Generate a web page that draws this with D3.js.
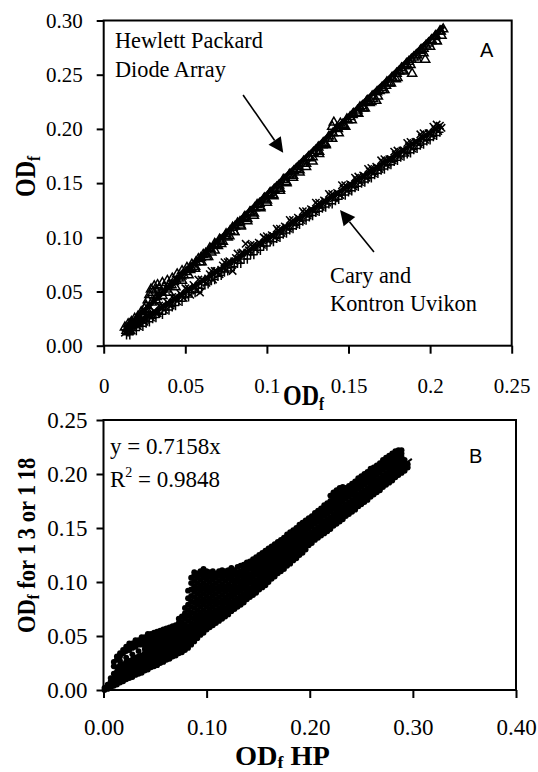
<!DOCTYPE html>
<html><head><meta charset="utf-8">
<script src="https://cdn.jsdelivr.net/npm/d3@7"></script>
<style>body{margin:0;background:#fff} .sf{font-family:"Liberation Serif","Tinos","Times New Roman","DejaVu Serif","Noto Serif",serif} .ss{font-family:"Liberation Sans",Arimo,Arial,sans-serif}</style>
</head><body>
<svg id="c" width="538" height="772"></svg>
<script>
// ---------- DATA ----------
const aXTicks = [0, 0.05, 0.1, 0.15, 0.2, 0.25];
const aXTickLabels = ["0", "0.05", "0.1", "0.15", "0.2", "0.25"];
const aYTicks = [0, 0.05, 0.1, 0.15, 0.2, 0.25, 0.3];
const aYTickLabels = ["0.00", "0.05", "0.10", "0.15", "0.20", "0.25", "0.30"];
const bXTicks = [0, 0.1, 0.2, 0.3, 0.4];
const bXTickLabels = ["0.00", "0.10", "0.20", "0.30", "0.40"];
const bYTicks = [0, 0.05, 0.1, 0.15, 0.2, 0.25];
const bYTickLabels = ["0.00", "0.05", "0.10", "0.15", "0.20", "0.25"];

// Panel A: Hewlett Packard diode array (triangles)
const hpPoints = [[0.013,0.017],[0.014,0.014],[0.015,0.020],[0.016,0.018],[0.017,0.022],[0.018,0.019],[0.019,0.025],[0.020,0.023],[0.021,0.027],[0.022,0.025],[0.023,0.031],[0.024,0.029],[0.025,0.034],[0.026,0.037],[0.027,0.042],[0.028,0.047],[0.029,0.052],[0.030,0.049],[0.031,0.055],[0.032,0.051],[0.033,0.056],[0.034,0.053],[0.036,0.058],[0.037,0.054],[0.039,0.060],[0.040,0.056],[0.042,0.062],[0.043,0.059],[0.045,0.066],[0.046,0.062],[0.048,0.069],[0.049,0.065],[0.051,0.072],[0.053,0.070],[0.054,0.075],[0.056,0.073],[0.058,0.080],[0.059,0.077],[0.061,0.084],[0.063,0.082],[0.065,0.090],[0.066,0.086],[0.068,0.094],[0.070,0.092],[0.071,0.098],[0.073,0.096],[0.075,0.103],[0.077,0.101],[0.079,0.109],[0.080,0.105],[0.082,0.113],[0.084,0.110],[0.086,0.118],[0.088,0.115],[0.090,0.123],[0.092,0.120],[0.094,0.130],[0.096,0.127],[0.098,0.135],[0.100,0.132],[0.102,0.141],[0.104,0.138],[0.106,0.146],[0.108,0.143],[0.110,0.153],[0.112,0.150],[0.114,0.158],[0.116,0.155],[0.118,0.163],[0.120,0.160],[0.122,0.168],[0.124,0.165],[0.126,0.173],[0.128,0.170],[0.130,0.180],[0.132,0.177],[0.134,0.185],[0.136,0.186],[0.138,0.193],[0.140,0.202],[0.141,0.206],[0.143,0.201],[0.145,0.205],[0.147,0.203],[0.149,0.209],[0.151,0.211],[0.153,0.214],[0.155,0.215],[0.157,0.220],[0.159,0.219],[0.161,0.225],[0.163,0.224],[0.165,0.228],[0.167,0.226],[0.169,0.235],[0.171,0.236],[0.173,0.240],[0.175,0.242],[0.177,0.247],[0.179,0.246],[0.181,0.253],[0.183,0.254],[0.185,0.258],[0.187,0.262],[0.189,0.251],[0.190,0.266],[0.192,0.268],[0.194,0.272],[0.196,0.274],[0.197,0.264],[0.199,0.279],[0.201,0.282],[0.203,0.285],[0.204,0.281],[0.206,0.290],[0.207,0.286],[0.208,0.292],
 [0.0145,0.016],[0.0175,0.020],[0.0205,0.024],[0.0235,0.028],[0.0265,0.033],[0.0295,0.040],[0.0325,0.045],[0.0355,0.049],[0.0385,0.052],[0.0415,0.056],[0.0445,0.060],[0.0475,0.064],[0.0505,0.068],[0.0535,0.072],[0.0565,0.077],[0.0595,0.081],[0.0625,0.085],[0.0655,0.089],[0.0685,0.093],[0.0715,0.097],[0.0745,0.101],[0.0775,0.106],[0.0805,0.110],[0.0835,0.114],[0.0865,0.119],[0.0895,0.123],[0.0925,0.127],[0.0955,0.131],[0.0985,0.136],[0.1015,0.140],[0.1045,0.144],[0.1075,0.148],[0.1105,0.153],[0.1135,0.157],[0.1165,0.161],[0.1195,0.165],[0.1225,0.170],[0.1255,0.174],[0.1285,0.178],[0.1315,0.183],[0.1345,0.187],[0.1375,0.191],[0.1405,0.196],[0.1435,0.200],[0.1465,0.204],[0.1495,0.208],[0.1525,0.213],[0.1555,0.217],[0.1585,0.221],[0.1615,0.226],[0.1645,0.230],[0.1675,0.234],[0.1705,0.238],[0.1735,0.243],[0.1765,0.247],[0.1795,0.251],[0.1825,0.256],[0.1855,0.260],[0.1885,0.264],[0.1915,0.268],[0.1945,0.273],[0.1975,0.277],[0.2005,0.281],[0.2035,0.286],[0.2065,0.290],
 [0.016,0.014],[0.020,0.020],[0.024,0.026],[0.028,0.033],[0.032,0.042],[0.036,0.046],[0.040,0.049],[0.044,0.054],[0.048,0.060],[0.052,0.065],[0.056,0.071],[0.060,0.077],[0.064,0.082],[0.068,0.088],[0.072,0.094],[0.076,0.100],[0.080,0.105],[0.084,0.111],[0.088,0.117],[0.092,0.122],[0.096,0.128],[0.100,0.134],[0.104,0.139],[0.108,0.145],[0.112,0.151],[0.116,0.157],[0.120,0.162],[0.124,0.168],[0.128,0.174],[0.132,0.179],[0.136,0.185],[0.140,0.191],[0.144,0.196],[0.148,0.202],[0.152,0.208],[0.156,0.214],[0.160,0.219],[0.164,0.225],[0.168,0.230],[0.172,0.236],[0.176,0.242],[0.180,0.247],[0.184,0.253],[0.188,0.259],[0.192,0.264],[0.196,0.270],[0.200,0.276],[0.204,0.281]];
// Panel A: Cary (x) and Kontron Uvikon (+)
const caryPoints = [[0.013,0.012],[0.015,0.016],[0.017,0.014],[0.019,0.020],[0.021,0.018],[0.023,0.024],[0.025,0.022],[0.027,0.028],[0.029,0.026],[0.031,0.032],[0.033,0.030],[0.035,0.036],[0.037,0.033],[0.039,0.040],[0.041,0.037],[0.043,0.044],[0.045,0.041],[0.047,0.048],[0.049,0.044],[0.051,0.052],[0.053,0.047],[0.055,0.056],[0.057,0.051],[0.059,0.049],[0.061,0.060],[0.063,0.058],[0.065,0.066],[0.067,0.061],[0.069,0.069],[0.071,0.066],[0.073,0.074],[0.075,0.070],[0.077,0.078],[0.079,0.069],[0.081,0.081],[0.083,0.079],[0.085,0.086],[0.087,0.094],[0.089,0.088],[0.091,0.092],[0.093,0.089],[0.095,0.095],[0.097,0.093],[0.099,0.099],[0.101,0.097],[0.103,0.102],[0.105,0.100],[0.107,0.106],[0.109,0.104],[0.111,0.110],[0.113,0.108],[0.115,0.114],[0.117,0.112],[0.119,0.118],[0.121,0.116],[0.123,0.122],[0.125,0.120],[0.127,0.126],[0.129,0.124],[0.131,0.130],[0.133,0.128],[0.135,0.134],[0.137,0.132],[0.139,0.138],[0.141,0.136],[0.143,0.141],[0.145,0.139],[0.147,0.145],[0.149,0.143],[0.151,0.149],[0.153,0.147],[0.155,0.153],[0.157,0.151],[0.159,0.157],[0.161,0.155],[0.163,0.161],[0.165,0.159],[0.167,0.165],[0.169,0.163],[0.171,0.169],[0.173,0.167],[0.175,0.172],[0.177,0.171],[0.179,0.176],[0.181,0.175],[0.183,0.180],[0.185,0.178],[0.187,0.184],[0.189,0.182],[0.191,0.188],[0.193,0.186],[0.195,0.192],[0.197,0.190],[0.199,0.196],[0.201,0.194],[0.203,0.200],[0.205,0.198],[0.206,0.203],[0.207,0.201],
 [0.016,0.014],[0.020,0.021],[0.024,0.023],[0.028,0.029],[0.032,0.030],[0.036,0.037],[0.040,0.038],[0.044,0.045],[0.048,0.046],[0.052,0.053],[0.056,0.054],[0.060,0.061],[0.064,0.062],[0.068,0.069],[0.072,0.070],[0.076,0.077],[0.080,0.078],[0.084,0.085],[0.088,0.086],[0.092,0.093],[0.096,0.094],[0.100,0.101],[0.104,0.101],[0.108,0.108],[0.112,0.109],[0.116,0.116],[0.120,0.117],[0.124,0.124],[0.128,0.125],[0.132,0.132],[0.136,0.133],[0.140,0.140],[0.144,0.140],[0.148,0.148],[0.152,0.148],[0.156,0.156],[0.160,0.156],[0.164,0.164],[0.168,0.164],[0.172,0.172],[0.176,0.172],[0.180,0.180],[0.184,0.180],[0.188,0.188],[0.192,0.188],[0.196,0.196],[0.200,0.196],[0.204,0.204],
 [0.018,0.022],[0.026,0.029],[0.034,0.037],[0.042,0.045],[0.050,0.053],[0.058,0.061],[0.066,0.069],[0.074,0.077],[0.082,0.085],[0.090,0.093],[0.098,0.100],[0.106,0.108],[0.114,0.116],[0.122,0.124],[0.130,0.132],[0.138,0.140],[0.146,0.148],[0.154,0.155],[0.162,0.163],[0.170,0.171],[0.178,0.179],[0.186,0.187],[0.194,0.195],[0.202,0.202]];
const kontronPoints = [[0.014,0.010],[0.018,0.014],[0.022,0.019],[0.026,0.021],[0.030,0.025],[0.034,0.030],[0.038,0.033],[0.042,0.036],[0.046,0.041],[0.050,0.045],[0.054,0.049],[0.058,0.053],[0.062,0.056],[0.066,0.060],[0.070,0.064],[0.074,0.068],[0.078,0.072],[0.082,0.076],[0.086,0.080],[0.090,0.084],[0.094,0.088],[0.098,0.092],[0.102,0.096],[0.106,0.099],[0.110,0.103],[0.114,0.107],[0.118,0.111],[0.122,0.115],[0.126,0.119],[0.130,0.123],[0.134,0.127],[0.138,0.131],[0.142,0.134],[0.146,0.139],[0.150,0.142],[0.154,0.146],[0.158,0.150],[0.162,0.154],[0.166,0.158],[0.170,0.162],[0.174,0.166],[0.178,0.170],[0.182,0.174],[0.186,0.177],[0.190,0.181],[0.194,0.185],[0.198,0.189],[0.202,0.193],[0.206,0.197],
 [0.016,0.010],[0.020,0.014],[0.024,0.018],[0.028,0.022],[0.032,0.026],[0.036,0.029],[0.040,0.033],[0.044,0.037],[0.048,0.041],[0.052,0.045],[0.056,0.049],[0.060,0.053],[0.064,0.057],[0.068,0.061],[0.072,0.065],[0.076,0.069],[0.080,0.073],[0.084,0.076],[0.088,0.080],[0.092,0.084],[0.096,0.088],[0.100,0.092],[0.104,0.096],[0.108,0.100],[0.112,0.104],[0.116,0.108],[0.120,0.112],[0.124,0.116],[0.128,0.120],[0.132,0.124],[0.136,0.128],[0.140,0.131],[0.144,0.135],[0.148,0.139],[0.152,0.143],[0.156,0.147],[0.160,0.151],[0.164,0.155],[0.168,0.159],[0.172,0.163],[0.176,0.167],[0.180,0.171],[0.184,0.175],[0.188,0.178],[0.192,0.182],[0.196,0.186],[0.200,0.190],[0.204,0.194]];
const hpFit = [[0.013, 0.0156], [0.2085, 0.2951]];
const caryFit = [[0.013, 0.0130], [0.207, 0.2035]];

// Panel B: OD_f at 13 or 118 vs OD_f HP (columns: x, list of y)
const bColumns = [
 [0.001,[0.000,0.002]],
 [0.004,[0.001,0.003,0.005]],
 [0.007,[0.002,0.005,0.008,0.011]],
 [0.010,[0.004,0.007,0.011,0.015,0.022,0.026]],
 [0.013,[0.005,0.009,0.013,0.017,0.021,0.028,0.031]],
 [0.016,[0.007,0.011,0.015,0.019,0.023,0.027,0.031,0.034]],
 [0.019,[0.008,0.012,0.016,0.020,0.024,0.034,0.037]],
 [0.022,[0.010,0.014,0.018,0.022,0.026,0.030,0.036,0.040]],
 [0.025,[0.011,0.015,0.019,0.023,0.027,0.037,0.041,0.043]],
 [0.028,[0.012,0.016,0.020,0.024,0.028,0.033,0.039,0.043]],
 [0.031,[0.014,0.018,0.022,0.026,0.030,0.040,0.044,0.046]],
 [0.034,[0.015,0.019,0.023,0.027,0.031,0.036,0.042,0.046]],
 [0.037,[0.016,0.020,0.024,0.028,0.032,0.042,0.046,0.049]],
 [0.040,[0.018,0.022,0.026,0.030,0.034,0.038,0.042,0.045,0.049]],
 [0.043,[0.019,0.023,0.027,0.031,0.035,0.039,0.043,0.047,0.050,0.052]],
 [0.046,[0.021,0.025,0.029,0.033,0.037,0.041,0.044,0.048,0.052]],
 [0.049,[0.022,0.026,0.030,0.034,0.038,0.042,0.046,0.050,0.053]],
 [0.052,[0.023,0.027,0.031,0.035,0.039,0.043,0.047,0.051,0.054]],
 [0.055,[0.025,0.029,0.033,0.037,0.041,0.045,0.048,0.052,0.055]],
 [0.058,[0.026,0.030,0.034,0.038,0.042,0.046,0.050,0.053,0.056]],
 [0.061,[0.028,0.032,0.036,0.040,0.044,0.048,0.051,0.054,0.057]],
 [0.064,[0.029,0.033,0.037,0.041,0.045,0.049,0.052,0.055,0.058]],
 [0.067,[0.031,0.035,0.039,0.043,0.047,0.050,0.053,0.056,0.059]],
 [0.070,[0.032,0.036,0.040,0.044,0.048,0.051,0.054,0.057,0.060]],
 [0.073,[0.034,0.038,0.042,0.046,0.050,0.053,0.056,0.059,0.062,0.066]],
 [0.076,[0.035,0.039,0.043,0.047,0.051,0.055,0.059,0.063,0.068]],
 [0.079,[0.037,0.041,0.045,0.049,0.053,0.057,0.061,0.066,0.071,0.076]],
 [0.082,[0.039,0.043,0.047,0.051,0.055,0.059,0.064,0.069,0.074,0.079,0.085,0.092]],
 [0.085,[0.042,0.046,0.050,0.054,0.058,0.062,0.067,0.072,0.077,0.082,0.087,0.093,0.099,0.104]],
 [0.088,[0.045,0.049,0.053,0.057,0.061,0.066,0.071,0.076,0.081,0.086,0.091,0.096,0.101,0.106,0.109]],
 [0.091,[0.048,0.052,0.056,0.060,0.064,0.069,0.074,0.079,0.084,0.089,0.094,0.099,0.104,0.108]],
 [0.094,[0.051,0.055,0.059,0.063,0.067,0.072,0.077,0.082,0.087,0.092,0.097,0.102,0.107,0.110]],
 [0.097,[0.053,0.057,0.061,0.065,0.069,0.074,0.079,0.084,0.089,0.094,0.099,0.104,0.108,0.112]],
 [0.100,[0.056,0.060,0.064,0.068,0.072,0.077,0.082,0.087,0.092,0.097,0.102,0.106,0.110]],
 [0.103,[0.058,0.062,0.066,0.070,0.075,0.080,0.085,0.090,0.095,0.100,0.105,0.109]],
 [0.106,[0.060,0.064,0.068,0.072,0.077,0.082,0.087,0.092,0.097,0.102,0.106,0.110]],
 [0.109,[0.062,0.066,0.070,0.074,0.079,0.084,0.089,0.094,0.099,0.104,0.108]],
 [0.112,[0.064,0.068,0.072,0.076,0.081,0.086,0.091,0.096,0.101,0.106,0.110]],
 [0.115,[0.066,0.070,0.074,0.078,0.083,0.088,0.093,0.098,0.103,0.107,0.111]],
 [0.118,[0.068,0.072,0.076,0.081,0.086,0.091,0.096,0.101,0.106,0.110]],
 [0.121,[0.070,0.074,0.078,0.083,0.088,0.093,0.098,0.103,0.107,0.111]],
 [0.124,[0.073,0.077,0.081,0.086,0.091,0.096,0.101,0.105,0.109,0.113]],
 [0.127,[0.075,0.079,0.083,0.088,0.093,0.098,0.102,0.107,0.111]],
 [0.130,[0.077,0.081,0.085,0.090,0.095,0.100,0.104,0.109,0.114]],
 [0.133,[0.079,0.083,0.087,0.092,0.097,0.101,0.106,0.110,0.115]],
 [0.136,[0.081,0.085,0.089,0.094,0.099,0.103,0.108,0.112,0.116]],
 [0.139,[0.084,0.088,0.092,0.097,0.101,0.105,0.110,0.114,0.118]],
 [0.142,[0.086,0.090,0.094,0.099,0.103,0.107,0.112,0.116,0.119]],
 [0.145,[0.088,0.092,0.096,0.100,0.105,0.109,0.113,0.117,0.121]],
 [0.148,[0.090,0.094,0.098,0.102,0.107,0.111,0.115,0.119,0.123]],
 [0.151,[0.093,0.097,0.101,0.105,0.109,0.113,0.117,0.121,0.125]],
 [0.154,[0.095,0.099,0.103,0.107,0.111,0.115,0.119,0.123,0.127]],
 [0.157,[0.097,0.101,0.105,0.109,0.113,0.117,0.121,0.125,0.129]],
 [0.160,[0.100,0.104,0.108,0.112,0.116,0.120,0.124,0.128,0.131]],
 [0.163,[0.103,0.107,0.110,0.114,0.118,0.122,0.126,0.130,0.133]],
 [0.166,[0.105,0.109,0.112,0.116,0.120,0.124,0.128,0.132,0.135]],
 [0.169,[0.108,0.111,0.114,0.118,0.122,0.126,0.130,0.134,0.137]],
 [0.172,[0.110,0.113,0.116,0.120,0.124,0.128,0.132,0.136,0.139]],
 [0.175,[0.112,0.115,0.118,0.122,0.126,0.130,0.134,0.138,0.141]],
 [0.178,[0.115,0.118,0.121,0.125,0.129,0.133,0.137,0.140,0.144]],
 [0.181,[0.117,0.120,0.123,0.127,0.131,0.135,0.139,0.142,0.146]],
 [0.184,[0.120,0.123,0.126,0.130,0.134,0.138,0.141,0.144,0.148]],
 [0.187,[0.122,0.125,0.128,0.132,0.136,0.140,0.143,0.147,0.150]],
 [0.190,[0.125,0.128,0.131,0.134,0.138,0.142,0.146,0.149,0.153]],
 [0.193,[0.127,0.130,0.133,0.136,0.140,0.144,0.148,0.151,0.155]],
 [0.196,[0.130,0.133,0.136,0.139,0.143,0.147,0.150,0.153,0.157]],
 [0.199,[0.134,0.137,0.140,0.144,0.149,0.153,0.156,0.159]],
 [0.202,[0.136,0.139,0.142,0.146,0.151,0.155,0.158,0.161]],
 [0.205,[0.139,0.142,0.145,0.149,0.154,0.158,0.161,0.164]],
 [0.208,[0.141,0.144,0.147,0.151,0.156,0.160,0.163,0.166]],
 [0.211,[0.143,0.146,0.149,0.153,0.158,0.162,0.165,0.168]],
 [0.214,[0.145,0.149,0.152,0.156,0.161,0.165,0.168,0.171]],
 [0.217,[0.147,0.151,0.154,0.158,0.163,0.167,0.170,0.173]],
 [0.220,[0.149,0.153,0.156,0.160,0.165,0.169,0.172,0.175,0.180]],
 [0.223,[0.152,0.156,0.159,0.163,0.168,0.172,0.175,0.178,0.183]],
 [0.226,[0.154,0.158,0.161,0.165,0.170,0.174,0.177,0.180,0.185]],
 [0.229,[0.156,0.160,0.163,0.167,0.172,0.176,0.179,0.182,0.187]],
 [0.232,[0.158,0.162,0.165,0.169,0.174,0.178,0.181,0.184,0.188]],
 [0.235,[0.161,0.165,0.168,0.172,0.177,0.181,0.184,0.187]],
 [0.238,[0.163,0.167,0.170,0.174,0.179,0.183,0.186,0.189]],
 [0.241,[0.165,0.169,0.172,0.176,0.181,0.185,0.188,0.191]],
 [0.244,[0.167,0.171,0.174,0.178,0.183,0.187,0.190,0.193]],
 [0.247,[0.170,0.174,0.177,0.181,0.186,0.190,0.193,0.196]],
 [0.250,[0.172,0.176,0.179,0.183,0.188,0.192,0.195,0.198]],
 [0.253,[0.174,0.178,0.181,0.185,0.190,0.194,0.197,0.200]],
 [0.256,[0.176,0.180,0.183,0.187,0.192,0.196,0.199,0.202]],
 [0.259,[0.179,0.183,0.186,0.190,0.195,0.199,0.202,0.205]],
 [0.262,[0.181,0.185,0.188,0.192,0.197,0.201,0.204,0.206]],
 [0.265,[0.183,0.187,0.190,0.194,0.199,0.203,0.206,0.208]],
 [0.268,[0.185,0.189,0.192,0.196,0.201,0.205,0.208,0.210]],
 [0.271,[0.188,0.192,0.195,0.199,0.204,0.208,0.211,0.213]],
 [0.274,[0.190,0.194,0.197,0.201,0.206,0.210,0.213,0.215]],
 [0.277,[0.192,0.196,0.199,0.203,0.208,0.212,0.215,0.217]],
 [0.280,[0.194,0.198,0.201,0.205,0.209,0.213,0.216,0.219]],
 [0.283,[0.197,0.201,0.204,0.208,0.212,0.216,0.219,0.221]],
 [0.286,[0.199,0.203,0.206,0.210,0.214,0.218,0.221,0.222]],
 [0.289,[0.201,0.205,0.208,0.212,0.216,0.219,0.222]],
 [0.292,[0.203,0.207,0.210,0.213]],
 [0.295,[0.206,0.209]]
];
const bFit = [[0, 0], [0.299, 0.214]];

// ---------- DRAW ----------
const svg = d3.select("#c");
svg.append("rect").attr("width", 538).attr("height", 772).attr("fill", "#fff");

function frame(g, x, y, xt, xl, yt, yl, fs, xpad, ypad) {
  const [x0, x1] = x.range(), [y0, y1] = y.range();
  g.append("rect").attr("x", x0).attr("y", y1).attr("width", x1 - x0).attr("height", y0 - y1)
    .attr("fill", "none").attr("stroke", "#000").attr("stroke-width", 2);
  const ax = g.append("g").attr("transform", `translate(0,${y0})`)
    .call(d3.axisBottom(x).tickValues(xt).tickFormat((d, i) => xl[i]).tickSize(8).tickPadding(xpad));
  const ay = g.append("g").attr("transform", `translate(${x0},0)`)
    .call(d3.axisLeft(y).tickValues(yt).tickFormat((d, i) => yl[i]).tickSize(7).tickPadding(ypad));
  [ax, ay].forEach(a => {
    a.attr("font-family", null).attr("font-size", null);
    a.select(".domain").remove();
    a.selectAll("line").attr("stroke", "#000").attr("stroke-width", 2);
    a.selectAll("text").attr("class", "sf").style("font-size", fs + "px").attr("fill", "#000");
  });
}

function arrow(g, x, y, from, to) {
  const p0 = [x(from[0]), y(from[1])], p1 = [x(to[0]), y(to[1])];
  const dx = p1[0] - p0[0], dy = p1[1] - p0[1], L = Math.hypot(dx, dy);
  const ux = dx / L, uy = dy / L, hl = 15, hw = 7.5;
  const bx = p1[0] - ux * hl, by = p1[1] - uy * hl;
  g.append("line").attr("x1", p0[0]).attr("y1", p0[1]).attr("x2", bx).attr("y2", by)
    .attr("stroke", "#000").attr("stroke-width", 1.6);
  g.append("path").attr("d", `M${p1[0]},${p1[1]}L${bx - uy * hw},${by + ux * hw}L${bx + uy * hw},${by - ux * hw}Z`)
    .attr("fill", "#000");
}

// ----- Panel A -----
const xA = d3.scaleLinear().domain([0, 0.25]).range([103.7, 511.7]);
const yA = d3.scaleLinear().domain([0, 0.3]).range([345.7, 20.5]);
const gA = svg.append("g");
frame(gA, xA, yA, aXTicks, aXTickLabels, aYTicks, aYTickLabels, 21, 24, 14);

const tri = d3.symbol().type(d3.symbolTriangle).size(36);
gA.append("g").selectAll("path").data(hpPoints).join("path")
  .attr("transform", d => `translate(${xA(d[0])},${yA(d[1])})`).attr("d", tri)
  .attr("fill", "none").attr("stroke", "#000").attr("stroke-width", 1.5);
const s = 3.7;
gA.append("g").selectAll("path").data(caryPoints).join("path")
  .attr("transform", d => `translate(${xA(d[0])},${yA(d[1])})`)
  .attr("d", `M${-s},${-s}L${s},${s}M${-s},${s}L${s},${-s}`)
  .attr("stroke", "#000").attr("stroke-width", 1.5);
gA.append("g").selectAll("path").data(kontronPoints).join("path")
  .attr("transform", d => `translate(${xA(d[0])},${yA(d[1])})`)
  .attr("d", `M${-s},0L${s},0M0,${-s - 1}L0,${s + 1}`)
  .attr("stroke", "#000").attr("stroke-width", 1.5);
const lineA = d3.line().x(d => xA(d[0])).y(d => yA(d[1]));
gA.append("path").attr("d", lineA(hpFit)).attr("stroke", "#000").attr("stroke-width", 4.5).attr("fill", "none");
gA.append("path").attr("d", lineA(caryFit)).attr("stroke", "#000").attr("stroke-width", 4.5).attr("fill", "none");

arrow(gA, xA, yA, [0.0854, 0.2313], [0.1100, 0.1780]);
arrow(gA, xA, yA, [0.1656, 0.0864], [0.1448, 0.1252]);

const tA = (txt, dx, dy, cls, fs) => gA.append("text").attr("x", xA(dx)).attr("y", yA(dy))
  .attr("class", cls).style("font-size", fs + "px").attr("fill", "#000").text(txt);
tA("Hewlett Packard", 0.0069, 0.275, "sf", 22.3);
tA("Diode Array", 0.0069, 0.2479, "sf", 22.3);
tA("Cary and", 0.1387, 0.0578, "sf", 22.3);
tA("Kontron Uvikon", 0.1387, 0.0319, "sf", 22.3);
tA("A", 0.2306, 0.2663, "ss", 20);

// Axis titles A
const xtA = gA.append("text").attr("transform", "translate(283,405) scale(0.8,1)")
  .attr("class", "sf").style("font-weight", "bold").style("font-size", "30px").attr("fill", "#000");
xtA.append("tspan").text("OD");
xtA.append("tspan").style("font-size", "19px").attr("dy", 5).text("f");
const ytA = gA.append("text").attr("transform", "translate(35,197) rotate(-90) scale(0.8,1)")
  .attr("class", "sf").style("font-weight", "bold").style("font-size", "30px").attr("fill", "#000");
ytA.append("tspan").text("OD");
ytA.append("tspan").style("font-size", "19px").attr("dy", 5).text("f");

// ----- Panel B -----
const xB = d3.scaleLinear().domain([0, 0.4]).range([103.5, 516]);
const yB = d3.scaleLinear().domain([0, 0.25]).range([690, 420]);
const gB = svg.append("g");
frame(gB, xB, yB, bXTicks, bXTickLabels, bYTicks, bYTickLabels, 23, 21, 9);

const bPoints = bColumns.flatMap(([x, ys]) => ys.map(y => [x, y]));
gB.append("g").selectAll("circle").data(bPoints).join("circle")
  .attr("cx", d => xB(d[0])).attr("cy", d => yB(d[1])).attr("r", 2.95).attr("fill", "#000");
const lineB = d3.line().x(d => xB(d[0])).y(d => yB(d[1]));
gB.append("path").attr("d", lineB(bFit)).attr("stroke", "#000").attr("stroke-width", 2).attr("fill", "none");

gB.append("text").attr("x", xB(0.0063)).attr("y", yB(0.2185))
  .attr("class", "sf").style("font-size", "23px").attr("fill", "#000").text("y = 0.7158x");
const r2 = gB.append("text").attr("x", xB(0.0063)).attr("y", yB(0.188))
  .attr("class", "sf").style("font-size", "23px").attr("fill", "#000");
r2.append("tspan").text("R");
r2.append("tspan").style("font-size", "14px").attr("dy", -10).text("2");
r2.append("tspan").attr("dy", 10).text(" = 0.9848");
gB.append("text").attr("x", xB(0.3545)).attr("y", yB(0.2102))
  .attr("class", "ss").style("font-size", "20px").attr("fill", "#000").text("B");

const xtB = gB.append("text").attr("transform", "translate(235,765) scale(1.05,1)")
  .attr("class", "sf").style("font-weight", "bold").style("font-size", "27px").attr("fill", "#000");
xtB.append("tspan").text("OD");
xtB.append("tspan").style("font-size", "17px").attr("dy", 3).text("f");
xtB.append("tspan").attr("dy", -3).text(" HP");
const ytB = gB.append("text").attr("transform", "translate(35,633) rotate(-90) scale(0.9,1)")
  .attr("class", "sf").style("font-weight", "bold").style("font-size", "25px").attr("fill", "#000");
ytB.append("tspan").text("OD");
ytB.append("tspan").style("font-size", "16px").attr("dy", 4).text("f");
ytB.append("tspan").attr("dy", -4).text(" for 1\u20093 or 1\u200918");
</script>
</body></html>
